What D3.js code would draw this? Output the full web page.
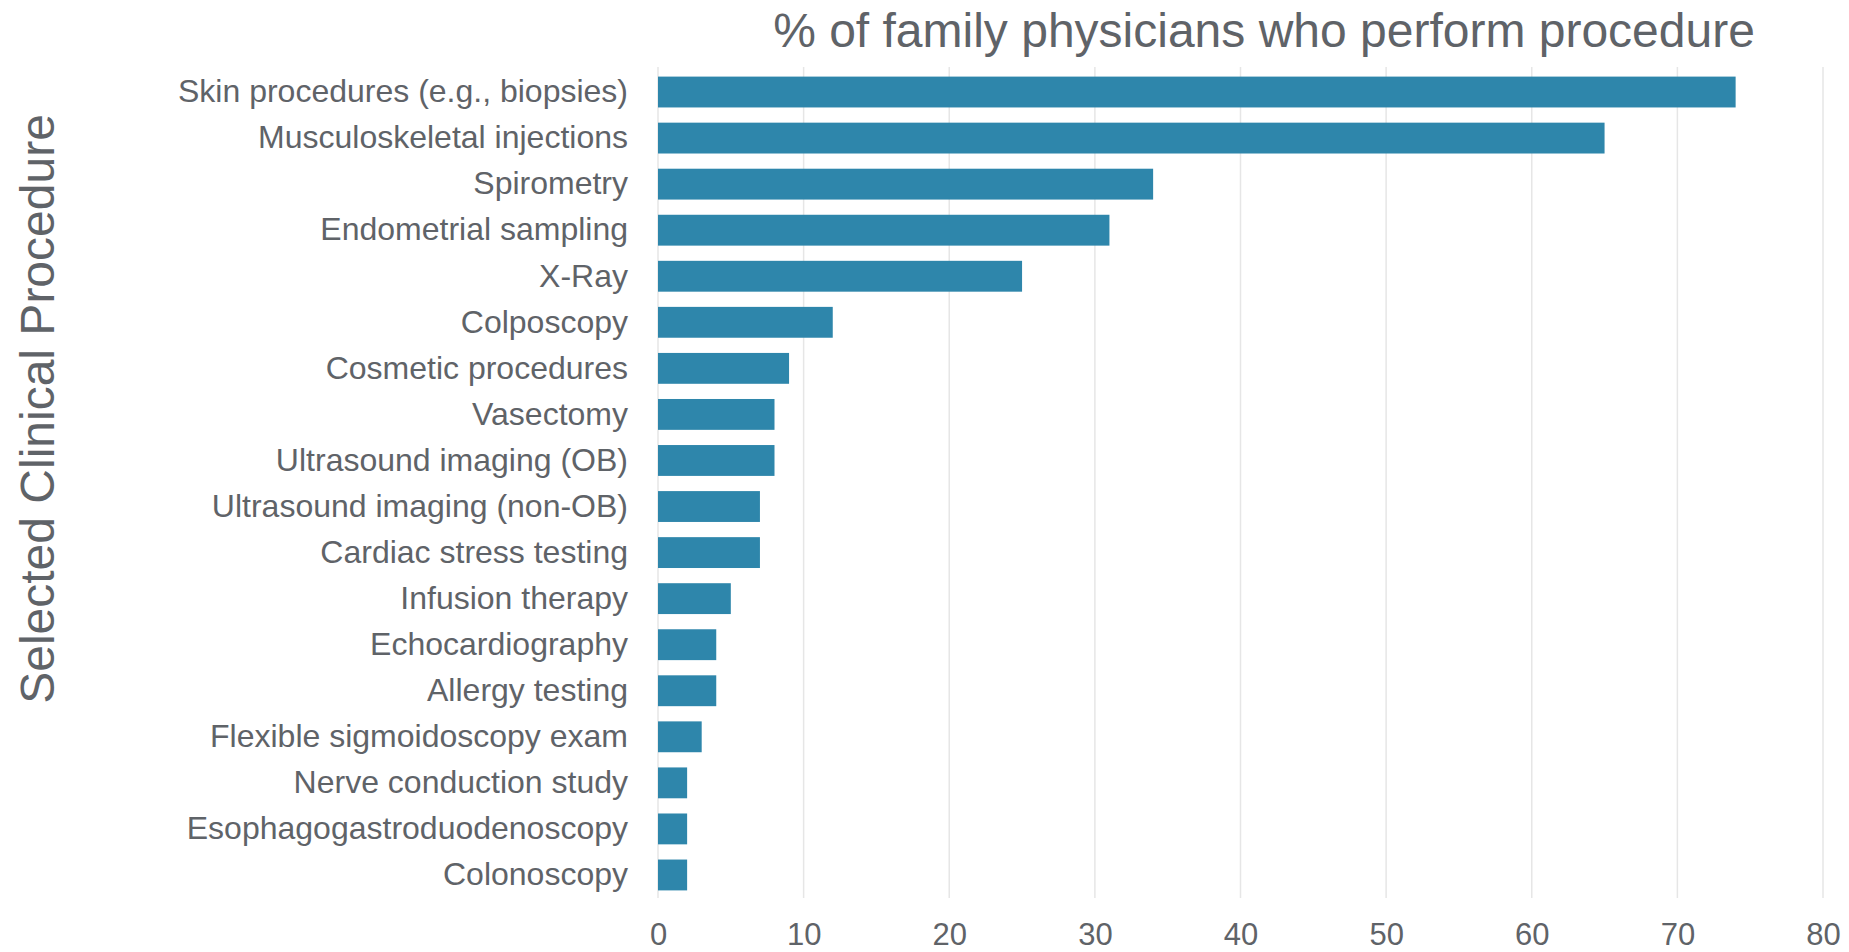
<!DOCTYPE html>
<html>
<head>
<meta charset="utf-8">
<script src="https://cdn.jsdelivr.net/npm/d3@7"></script>
<style>
  html, body { margin: 0; padding: 0; background: #ffffff; }
  svg { display: block; font-family: "Liberation Sans", Arial, sans-serif; }
</style>
</head>
<body>
<svg id="chart" width="1849" height="952"></svg>
<script>
const categories = [
  "Skin procedures (e.g., biopsies)",
  "Musculoskeletal injections",
  "Spirometry",
  "Endometrial sampling",
  "X-Ray",
  "Colposcopy",
  "Cosmetic procedures",
  "Vasectomy",
  "Ultrasound imaging (OB)",
  "Ultrasound imaging (non-OB)",
  "Cardiac stress testing",
  "Infusion therapy",
  "Echocardiography",
  "Allergy testing",
  "Flexible sigmoidoscopy exam",
  "Nerve conduction study",
  "Esophagogastroduodenoscopy",
  "Colonoscopy"
];
const values = [74, 65, 34, 31, 25, 12, 9, 8, 8, 7, 7, 5, 4, 4, 3, 2, 2, 2];
const xTicks = [0, 10, 20, 30, 40, 50, 60, 70, 80];
const titleText = "% of family physicians who perform procedure";
const yTitleText = "Selected Clinical Procedure";

const svg = d3.select("#chart");
const textColor = "#5f6368";
const barColor = "#2e86ab";
const gridColor = "#e6e6e6";

const plotLeft = 658, plotRight = 1823, plotTop = 69, plotBottom = 898;

const x = d3.scaleLinear().domain([0, 80]).range([plotLeft, plotRight]);
const y = d3.scaleBand().domain(categories).range([plotTop, plotBottom]).paddingInner(0.33).paddingOuter(0.165);

// gridlines
svg.append("g")
  .selectAll("line")
  .data(xTicks)
  .join("line")
  .attr("x1", d => x(d)).attr("x2", d => x(d))
  .attr("y1", plotTop - 2).attr("y2", plotBottom)
  .attr("stroke", gridColor)
  .attr("stroke-width", 1.5);

// bars
svg.append("g")
  .selectAll("rect")
  .data(categories)
  .join("rect")
  .attr("x", x(0))
  .attr("y", d => y(d))
  .attr("width", (d, i) => x(values[i]) - x(0))
  .attr("height", y.bandwidth())
  .attr("fill", barColor);

// y axis labels
const yAxis = d3.axisLeft(y).tickSize(0).tickPadding(30);
const gy = svg.append("g").attr("transform", `translate(${plotLeft},0)`).call(yAxis);
gy.select(".domain").remove();
gy.selectAll("text")
  .attr("fill", textColor)
  .style("font-size", "32px")
  .style("font-family", "'Liberation Sans', Arial, sans-serif");

// x axis labels
const xAxis = d3.axisBottom(x).tickValues(xTicks).tickSize(0).tickPadding(25).tickFormat(d3.format("d"));
const gx = svg.append("g").attr("transform", `translate(0,${plotBottom})`).call(xAxis);
gx.select(".domain").remove();
gx.selectAll("text")
  .attr("fill", textColor)
  .style("font-size", "31px")
  .style("font-family", "'Liberation Sans', Arial, sans-serif");

// title
svg.append("text")
  .attr("x", 1264)
  .attr("y", 47)
  .attr("text-anchor", "middle")
  .attr("fill", textColor)
  .style("font-size", "48px")
  .text(titleText);

// y title
svg.append("text")
  .attr("transform", "translate(54,409) rotate(-90)")
  .attr("text-anchor", "middle")
  .attr("fill", textColor)
  .style("font-size", "48px")
  .text(yTitleText);
</script>
</body>
</html>
